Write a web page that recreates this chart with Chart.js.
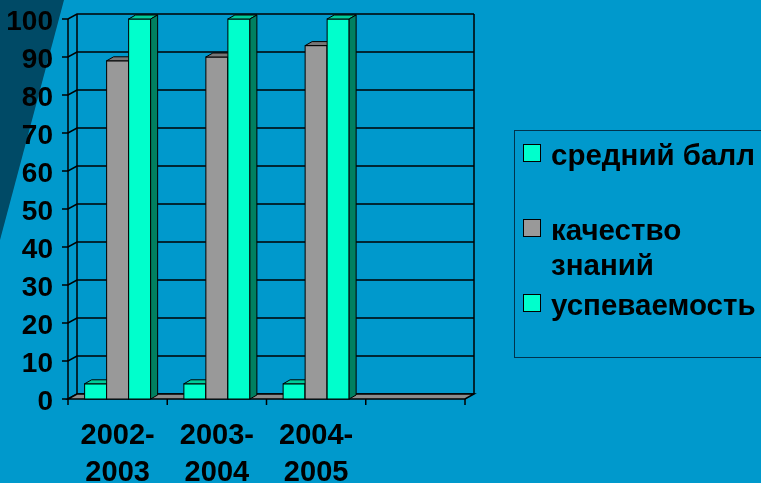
<!DOCTYPE html>
<html>
<head>
<meta charset="utf-8">
<script src="https://cdn.jsdelivr.net/npm/chart.js@4.4.1/dist/chart.umd.min.js"></script>
<style>
html, body { margin: 0; padding: 0; overflow: hidden; background: #0099cc; }
#wrap { position: relative; width: 761px; height: 483px; }
#legend { position: absolute; left: 514px; top: 130px; width: 260px; height: 228px;
  border: 1px solid #00334d; box-sizing: border-box; }
.item { position: absolute; left: 0; font: bold 29.5px "Liberation Sans", Arial, sans-serif;
  line-height: 35px; color: #000; white-space: nowrap; }
.item .sq { position: absolute; left: 8px; top: 7px; width: 16px; height: 16px; border: 1px solid #000; }
.item .tx { position: absolute; left: 36px; top: 0; }
</style>
</head>
<body>
<div id="wrap">
  <canvas id="data" width="761" height="483"></canvas>
  <div id="legend"></div>
</div>
<script>
var categories = [['2002-', '2003'], ['2003-', '2004'], ['2004-', '2005'], ''];
var avg_score = [4, 4, 4, null];
var quality = [89, 90, 93, null];
var progress = [100, 100, 100, null];
var series_names = [['средний балл'], ['качество', 'знаний'], ['успеваемость']];
var legend_tops = [6, 81, 156];

var faces = [
    {front: '#00ffcc', top: '#00cc99', side: '#008060'},
    {front: '#999999', top: '#777777', side: '#555555'},
    {front: '#00ffcc', top: '#00cc99', side: '#008060'}
];

var wall_dx = 9, wall_dy = -5;   // depth of the back wall
var bar_dx = 7, bar_dy = -4;     // depth of each bar

var bg_plugin = {
    id: 'bg',
    beforeDraw(chart) {
        var ctx = chart.ctx;
        ctx.save();
        ctx.fillStyle = '#0099cc';
        ctx.fillRect(0, 0, chart.width, chart.height);
        ctx.fillStyle = '#004a66';
        ctx.beginPath();
        ctx.moveTo(0, 0); ctx.lineTo(64, 0); ctx.lineTo(0, 240);
        ctx.closePath(); ctx.fill();
        ctx.restore();
    }
};

var walls_plugin = {
    id: 'walls',
    beforeDatasetsDraw(chart) {
        var ctx = chart.ctx, a = chart.chartArea, ys = chart.scales.y;
        ctx.save();
        ctx.strokeStyle = '#000';
        ctx.lineWidth = 1.5;
        // gridlines: outer tick, left wall diagonal, back wall line
        for (var v = 0; v <= 100; v += 10) {
            var py = ys.getPixelForValue(v);
            ctx.beginPath();
            ctx.moveTo(a.left - 6, py);
            ctx.lineTo(a.left, py);
            ctx.lineTo(a.left + wall_dx, py + wall_dy);
            ctx.lineTo(a.right + wall_dx, py + wall_dy);
            ctx.stroke();
        }
        // verticals
        ctx.beginPath();
        ctx.moveTo(a.left, a.top); ctx.lineTo(a.left, a.bottom);
        ctx.moveTo(a.left + wall_dx, a.top + wall_dy); ctx.lineTo(a.left + wall_dx, a.bottom + wall_dy);
        ctx.moveTo(a.right + wall_dx, a.top + wall_dy); ctx.lineTo(a.right + wall_dx, a.bottom + wall_dy);
        ctx.stroke();
        // floor
        ctx.fillStyle = '#8c8c8c';
        ctx.beginPath();
        ctx.moveTo(a.left, a.bottom);
        ctx.lineTo(a.right, a.bottom);
        ctx.lineTo(a.right + wall_dx, a.bottom + wall_dy);
        ctx.lineTo(a.left + wall_dx, a.bottom + wall_dy);
        ctx.closePath();
        ctx.fill(); ctx.stroke();
        // category ticks under the floor
        var n = categories.length, cw = (a.right - a.left) / n;
        ctx.beginPath();
        for (var k = 0; k <= n; k++) {
            ctx.moveTo(a.left + k * cw, a.bottom);
            ctx.lineTo(a.left + k * cw, a.bottom + 6);
        }
        ctx.stroke();
        ctx.restore();
    },
    afterDatasetsDraw(chart) {
        var ctx = chart.ctx;
        ctx.save();
        ctx.strokeStyle = '#000';
        ctx.lineWidth = 1;
        for (var i = 0; i < categories.length; i++) {
            chart.data.datasets.forEach(function(ds, d) {
                if (ds.data[i] == null) return;
                var bar = chart.getDatasetMeta(d).data[i];
                var l = bar.x - bar.width / 2, r = bar.x + bar.width / 2;
                var t = bar.y, b = bar.base;
                var f = faces[d];
                ctx.fillStyle = f.front;
                ctx.fillRect(l, t, r - l, b - t);
                ctx.strokeRect(l, t, r - l, b - t);
                ctx.fillStyle = f.top;
                ctx.beginPath();
                ctx.moveTo(l, t); ctx.lineTo(l + bar_dx, t + bar_dy);
                ctx.lineTo(r + bar_dx, t + bar_dy); ctx.lineTo(r, t);
                ctx.closePath(); ctx.fill(); ctx.stroke();
                ctx.fillStyle = f.side;
                ctx.beginPath();
                ctx.moveTo(r, t); ctx.lineTo(r + bar_dx, t + bar_dy);
                ctx.lineTo(r + bar_dx, b + bar_dy); ctx.lineTo(r, b);
                ctx.closePath(); ctx.fill(); ctx.stroke();
            });
        }
        ctx.restore();
    }
};

var font_family = '"Liberation Sans", Arial, sans-serif';

var config = {
    type: 'bar',
    data: {
        labels: categories,
        datasets: [avg_score, quality, progress].map(function(values, d) {
            return {
                label: series_names[d].join(' '),
                data: values,
                backgroundColor: 'rgba(0,0,0,0)',
                borderWidth: 0,
                categoryPercentage: 0.665,
                barPercentage: 1
            };
        })
    },
    options: {
        responsive: false,
        animation: false,
        devicePixelRatio: 1,
        layout: {autoPadding: false, padding: {left: 0, right: 296, top: 19, bottom: 0}},
        plugins: {legend: {display: false}, tooltip: {enabled: false}},
        scales: {
            x: {
                grid: {display: false},
                border: {display: false},
                ticks: {color: '#000', font: {family: font_family, size: 29, weight: 'bold', lineHeight: 37 / 29},
                        padding: 10, maxRotation: 0, autoSkip: false},
                afterFit: function(s) { s.height = 84; }
            },
            y: {
                min: 0, max: 100,
                grid: {display: false},
                border: {display: false},
                // small lineHeight keeps the top label from pushing the plot area down
                ticks: {color: '#000', font: {family: font_family, size: 28, weight: 'bold', lineHeight: 22 / 28},
                        stepSize: 10, padding: 7, labelOffset: 3, autoSkip: false},
                afterFit: function(s) { s.width = 68; }
            }
        }
    },
    plugins: [bg_plugin, walls_plugin]
};

(function() {
    new Chart(document.getElementById('data'), config);
    var legend = document.getElementById('legend');
    series_names.forEach(function(lines, d) {
        var item = document.createElement('div');
        item.className = 'item';
        item.style.top = legend_tops[d] + 'px';
        var sq = document.createElement('div');
        sq.className = 'sq';
        sq.style.background = faces[d].front;
        var tx = document.createElement('div');
        tx.className = 'tx';
        tx.innerHTML = lines.join('<br>');
        item.appendChild(sq);
        item.appendChild(tx);
        legend.appendChild(item);
    });
})();
</script>
</body>
</html>
